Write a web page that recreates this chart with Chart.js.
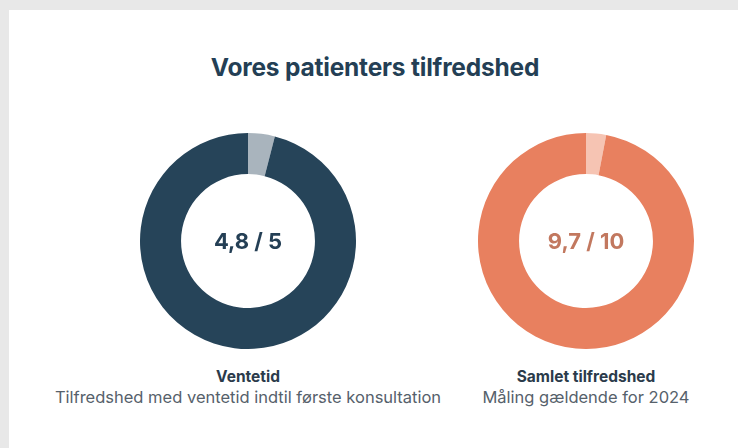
<!DOCTYPE html>
<html>
<head>
    <title>Vores patienters tilfredshed</title>
    <style>
        body {
            margin: 0;
            background: #e8e8e8;
            font-family: 'Inter', sans-serif;
            width: 738px;
            height: 448px;
            overflow: hidden;
        }
        .card {
            position: absolute;
            left: 9px;
            top: 10px;
            width: 729px;
            height: 438px;
            background: #ffffff;
        }
        h1 {
            position: absolute;
            left: 0;
            top: 52px;
            width: 750px;
            margin: 0;
            text-align: center;
            font-size: 24.5px;
            font-weight: 700;
            letter-spacing: -0.2px;
            color: #243f55;
        }
        .chart-box {
            position: absolute;
            width: 216px;
            height: 216px;
        }
        .center-text {
            position: absolute;
            left: 0;
            width: 216px;
            top: 95px;
            text-align: center;
            font-size: 22px;
            font-weight: 700;
            line-height: 26px;
        }
        .caption {
            position: absolute;
            width: 440px;
            text-align: center;
            top: 366px;
            font-size: 16.5px;
            line-height: 21px;
            color: #56616b;
        }
        .caption b {
            color: #2b3b4b;
            font-weight: 700;
            font-size: 15.5px;
        }
    </style>
    <script src="https://cdn.jsdelivr.net/npm/chart.js"></script>
</head>
<body>
    <div class="card"></div>
    <h1>Vores patienters tilfredshed</h1>

    <div class="chart-box" style="left: 140px; top: 133px;">
        <canvas id="chartVentetid" width="216" height="216"></canvas>
        <div class="center-text" id="textVentetid" style="color: #243f55;"></div>
    </div>
    <div class="chart-box" style="left: 478px; top: 133px;">
        <canvas id="chartSamlet" width="216" height="216"></canvas>
        <div class="center-text" id="textSamlet" style="color: #c2785f;"></div>
    </div>

    <div class="caption" style="left: 28px;"><b>Ventetid</b><br>Tilfredshed med ventetid indtil første konsultation</div>
    <div class="caption" style="left: 366px;"><b>Samlet tilfredshed</b><br>Måling gældende for 2024</div>

    <script>
        // scores and scale max for each gauge
        const gaugeNames = ['Ventetid', 'Samlet tilfredshed'];
        const scores = [4.8, 9.7];
        const maxScores = [5, 10];
        const mainColors = ['#264459', '#e8805f'];
        const restColors = ['#a9b4bd', '#f6c4b3'];

        function makeGauge(canvasId, textId, i) {
            const rest = +(maxScores[i] - scores[i]).toFixed(1);
            document.getElementById(textId).textContent =
                scores[i].toString().replace('.', ',') + ' / ' + maxScores[i];

            new Chart(document.getElementById(canvasId), {
                type: 'doughnut',
                data: {
                    labels: ['Mangler', gaugeNames[i]],
                    datasets: [{
                        data: [rest, scores[i]],
                        backgroundColor: [restColors[i], mainColors[i]],
                        borderWidth: 0
                    }]
                },
                options: {
                    responsive: false,
                    animation: false,
                    cutout: '62%',
                    plugins: {
                        legend: { display: false },
                        tooltip: { enabled: false }
                    }
                }
            });
        }

        makeGauge('chartVentetid', 'textVentetid', 0);
        makeGauge('chartSamlet', 'textSamlet', 1);
    </script>
</body>
</html>
